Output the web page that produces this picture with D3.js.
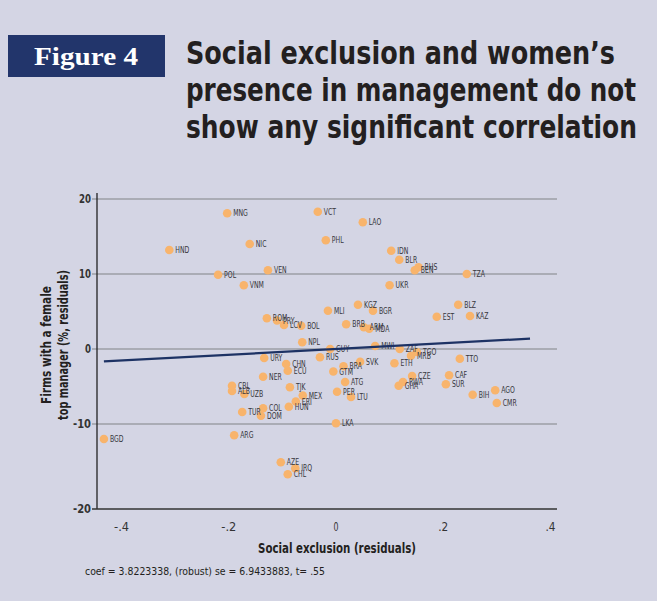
<!DOCTYPE html>
<html>
<head>
<meta charset="utf-8">
<script src="https://cdn.jsdelivr.net/npm/d3@7"></script>
<style>
  html, body { margin: 0; padding: 0; background: #d4d5e4; }
  svg { display: block; }
</style>
</head>
<body>
<svg id="chart" width="657" height="601"></svg>
<script>
// Country codes and residual values
const countries = ["BGD","HND","MNG","NIC","VEN","POL","VNM","VCT","LAO","PHL","IDN","BLR","BHS","BEN","TZA","UKR",
  "KGZ","BGR","MLI","BLZ","EST","KAZ","BRB","ARM","MDA","NPL","GUY","RUS","MWI","ZAF","TGO","MRB","TTO","ETH","SVK",
  "BRA","GTM","CHN","ECU","URY","ROM","PRY","LCV","BOL","NER","CAF","SUR","AGO","BIH","CMR","CZE","RWA","GHA","ATG",
  "PER","LTU","TJK","MEX","ERI","HUN","CBL","ALB","UZB","TUR","COL","DOM","LKA","ARG","AZE","IRQ","CHL"];
const exclusion = [-0.433,-0.311,-0.203,-0.161,-0.127,-0.220,-0.172,-0.034,0.050,-0.019,0.103,0.118,0.154,0.147,0.244,0.100,
  0.041,0.069,-0.015,0.228,0.188,0.250,0.019,0.052,0.062,-0.063,-0.011,-0.030,0.073,0.119,0.151,0.140,0.231,0.109,0.045,
  0.014,-0.005,-0.093,-0.090,-0.134,-0.129,-0.110,-0.097,-0.065,-0.136,0.211,0.205,0.297,0.255,0.300,0.142,0.125,0.117,0.017,
  0.002,0.028,-0.086,-0.062,-0.075,-0.088,-0.194,-0.194,-0.171,-0.175,-0.136,-0.140,0.000,-0.190,-0.103,-0.076,-0.090];
const femaleManager = [-12.0,13.2,18.1,14.0,10.5,9.9,8.5,18.3,16.9,14.5,13.1,11.9,10.9,10.5,10.0,8.5,
  5.9,5.1,5.1,5.9,4.3,4.4,3.3,2.9,2.7,0.9,0.0,-1.1,0.4,0.0,-0.4,-0.9,-1.3,-1.9,-1.7,
  -2.3,-3.0,-2.0,-2.9,-1.2,4.1,3.8,3.2,3.1,-3.7,-3.5,-4.7,-5.5,-6.1,-7.2,-3.6,-4.4,-4.9,-4.4,
  -5.7,-6.4,-5.1,-6.2,-7.0,-7.7,-4.9,-5.6,-6.0,-8.4,-7.9,-8.9,-9.9,-11.5,-15.1,-15.9,-16.7];

const xTicks = [-0.4, -0.2, 0, 0.2, 0.4];
const xTickLabels = ["-.4", "-.2", "0", ".2", ".4"];
const yTicks = [20, 10, 0, -10, -20];
const yTickLabels = ["20", "10", "0", "-10", "-20"];

// Fitted line: slope from the regression, drawn over the data span
const coef = 3.8223338;
const fitX = [-0.433, 0.362];

const sans = "'DejaVu Sans', 'Noto Sans', sans-serif";
const svg = d3.select("#chart");

// Condensed look: squeeze text to a given width
function fit(sel, w) {
  return sel.attr("textLength", w).attr("lengthAdjust", "spacingAndGlyphs");
}
// Condense each text of a selection by a constant factor of its natural width
function condense(sel, k) {
  sel.each(function () {
    const w = this.getComputedTextLength();
    d3.select(this).attr("textLength", w * k).attr("lengthAdjust", "spacingAndGlyphs");
  });
  return sel;
}

// Header: badge and headline
svg.append("rect").attr("x", 8).attr("y", 35).attr("width", 157).attr("height", 42).attr("fill", "#22356b");
fit(svg.append("text").attr("x", 86).attr("y", 65).attr("text-anchor", "middle")
  .attr("font-family", "'Liberation Serif', 'DejaVu Serif', serif").attr("font-weight", "bold")
  .attr("font-size", 26).attr("fill", "#ffffff").text("Figure 4"), 104);
const headline = ["Social exclusion and women\u2019s", "presence in management do not", "show any significant correlation"];
const headWidths = [429, 450, 451];
svg.append("g").selectAll("text").data(headline).join("text")
  .attr("x", 186).attr("y", (d, i) => 64 + i * 37)
  .attr("font-family", sans).attr("font-weight", "bold").attr("font-size", 32)
  .attr("fill", "#231f20")
  .attr("textLength", (d, i) => headWidths[i]).attr("lengthAdjust", "spacingAndGlyphs")
  .text(d => d);

// Plot scales
const x = d3.scaleLinear().domain([-0.4, 0.4]).range([121.6, 550.4]);
const y = d3.scaleLinear().domain([-10, 20]).range([424, 199]);
const plotLeft = 97, plotRight = 557, plotTop = 193, plotBottom = 509;

// Horizontal gridlines
svg.append("g").selectAll("line").data(yTicks.filter(t => t !== -20)).join("line")
  .attr("x1", plotLeft - 5).attr("x2", plotRight)
  .attr("y1", d => y(d)).attr("y2", d => y(d))
  .attr("stroke", "#9d9ea6").attr("stroke-width", 1.3);

// Axis lines
svg.append("line").attr("x1", plotLeft).attr("x2", plotLeft).attr("y1", plotTop).attr("y2", plotBottom)
  .attr("stroke", "#222").attr("stroke-width", 1.3);
svg.append("line").attr("x1", plotLeft - 5).attr("x2", plotRight).attr("y1", plotBottom).attr("y2", plotBottom)
  .attr("stroke", "#333").attr("stroke-width", 1.5);

// Y tick labels
svg.append("g").selectAll("text").data(yTicks).join("text")
  .attr("x", 91).attr("y", d => (d === -20 ? plotBottom : y(d)) + 4)
  .attr("text-anchor", "end").attr("font-family", sans).attr("font-weight", "bold")
  .attr("font-size", 11.5).attr("fill", "#333")
  .attr("textLength", (d, i) => yTickLabels[i].length * 6).attr("lengthAdjust", "spacingAndGlyphs")
  .text((d, i) => yTickLabels[i]);

// X tick labels
svg.append("g").selectAll("text").data(xTicks).join("text")
  .attr("x", d => x(d)).attr("y", 531).attr("text-anchor", "middle")
  .attr("font-family", sans).attr("font-size", 11.5).attr("fill", "#333")
  .attr("textLength", (d, i) => xTickLabels[i].length * 5).attr("lengthAdjust", "spacingAndGlyphs")
  .text((d, i) => xTickLabels[i]);

// Axis titles
fit(svg.append("text").attr("x", 258).attr("y", 553)
  .attr("font-family", sans).attr("font-weight", "bold").attr("font-size", 13.5)
  .attr("fill", "#231f20").text("Social exclusion (residuals)"), 158);
const yTitle = svg.append("text").attr("transform", "translate(51,345) rotate(-90)")
  .attr("font-family", sans).attr("font-weight", "bold")
  .attr("font-size", 13.5).attr("fill", "#231f20");
fit(yTitle.append("tspan").attr("x", -59).attr("y", 0).text("Firms with a female"), 118);
fit(yTitle.append("tspan").attr("x", -75).attr("y", 17).text("top manager (%, residuals)"), 150);

// Footnote with regression statistics
fit(svg.append("text").attr("x", 85).attr("y", 575)
  .attr("font-family", sans).attr("font-size", 10).attr("fill", "#231f20")
  .text("coef = 3.8223338, (robust) se = 6.9433883, t= .55"), 240);

// Points and country labels
const pts = countries.map((c, i) => ({ c, ex: exclusion[i], fm: femaleManager[i] }));
svg.append("g").selectAll("circle").data(pts).join("circle")
  .attr("cx", d => x(d.ex)).attr("cy", d => y(d.fm)).attr("r", 4.3)
  .attr("fill", "#f8b46c");
const labels = svg.append("g").selectAll("text").data(pts).join("text")
  .attr("x", d => x(d.ex) + 6).attr("y", d => y(d.fm) + 3)
  .attr("font-family", sans).attr("font-size", 8.8).attr("fill", "#37373c")
  .text(d => d.c);
condense(labels, 0.7);

// Fitted regression line
svg.append("line")
  .attr("x1", x(fitX[0])).attr("y1", y(coef * fitX[0]))
  .attr("x2", x(fitX[1])).attr("y2", y(coef * fitX[1]))
  .attr("stroke", "#1d3264").attr("stroke-width", 2.3);
</script>
</body>
</html>
